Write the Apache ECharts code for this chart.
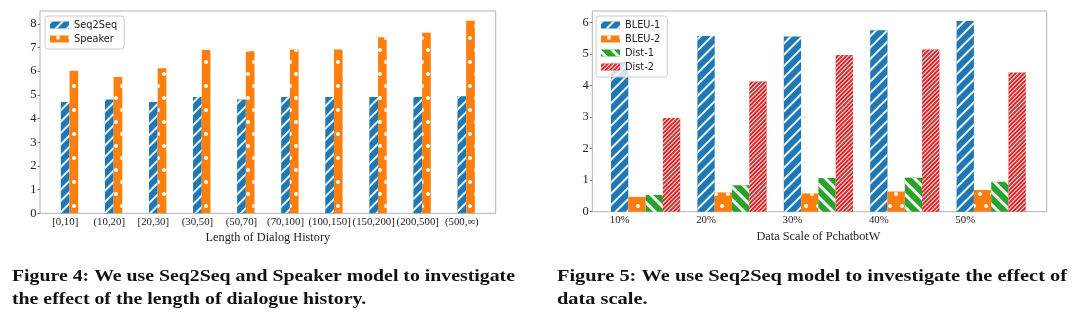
<!DOCTYPE html>
<html>
<head>
<meta charset="utf-8">
<script src="https://cdn.jsdelivr.net/npm/echarts@6/dist/echarts.min.js"></script>
<style>
html,body{margin:0;padding:0;background:#fff;}
#c{width:1080px;height:322px;}
</style>
</head>
<body>
<div id="c"></div>
<script>
// ---- data ----
const histCats = ['[0,10]','(10,20]','[20,30]','(30,50]','(50,70]','(70,100]','(100,150]','(150,200]','(200,500]','(500,\u221e)'];
const seq2seq = [4.70,4.80,4.70,4.91,4.80,4.91,4.91,4.91,4.91,4.94];
const speaker = [6.02,5.75,6.12,6.89,6.84,6.92,6.92,7.43,7.62,8.13];
const histTicks = [0,1,2,3,4,5,6,7,8];

const scaleCats = ['10%','20%','30%','40%','50%'];
const bleu1 = [4.75,5.58,5.56,5.76,6.05];
const bleu2 = [0.47,0.61,0.58,0.64,0.69];
const dist1 = [0.53,0.84,1.07,1.08,0.95];
const dist2 = [2.97,4.13,4.97,5.15,4.42];
const scaleTicks = [0,1,2,3,4,5,6];

const caption4 = ['Figure 4: We use Seq2Seq and Speaker model to investigate','the effect of the length of dialogue history.'];
const caption5 = ['Figure 5: We use Seq2Seq model to investigate the effect of','data scale.'];

// ---- styles ----
const BLUE='#1f77b4', ORANGE='#ff7f0e', GREEN='#2ca02c', RED='#d62728';
const SERIF='"Liberation Serif", "Times New Roman", serif';
const SANS='"DejaVu Sans", sans-serif';
const W='rgba(255,255,255,0.92)';
const decFwd = {symbol:'rect', symbolSize:1, color:W, dashArrayX:[1,0], dashArrayY:[2,6], rotation:-Math.PI/4};
const decBack = {symbol:'rect', symbolSize:1, color:W, dashArrayX:[1,0], dashArrayY:[3,6], rotation:Math.PI/4};
const decDense = {symbol:'rect', symbolSize:1, color:W, dashArrayX:[1,0], dashArrayY:[1,2], rotation:-Math.PI/4};
const decDots = {symbol:'circle', symbolSize:1, color:'#ffffff', dashArrayX:[[4,8],[0,6,4,2]], dashArrayY:[4,8], rotation:0};

const chart = echarts.init(document.getElementById('c'), null, {renderer:'canvas'});

function yAx(grid, max, ticks, visible){
  if(!visible) return {gridIndex:grid, type:'value', min:0, max:max, show:false};
  return {gridIndex:grid, type:'value', min:0, max:max, interval:1,
    axisLine:{show:false}, splitLine:{show:false},
    axisTick:{show:true, length:2.5, customValues:ticks, lineStyle:{color:'#777', width:1}},
    axisLabel:{customValues:ticks, fontFamily:SERIF, fontSize:12.5, color:'#222', margin:3.5}};
}
function catAx(grid, cats, name, shift){
  return {gridIndex:grid, type:'category', data:cats, boundaryGap:true,
    axisLine:{show:false}, axisTick:{show:false},
    axisLabel:{fontFamily:SERIF, fontSize:10.8, color:'#222', margin:3, padding:[0,shift,0,0], interval:0},
    name:name, nameLocation:'middle', nameGap:11,
    nameTextStyle:{fontFamily:SERIF, fontSize:12.3, color:'#222'}};
}

// caption scaling to match the condensed serif of the original
const mc = document.createElement('canvas').getContext('2d');
const capFont = 'bold 16px "Liberation Serif"';
mc.font = capFont;
const s4 = 503/mc.measureText(caption4[0]).width;
const s5 = 510/mc.measureText(caption5[0]).width;

const legendBase = {orient:'vertical', icon:'rect', itemWidth:19, itemHeight:7, itemGap:4,
  padding:[4,7,5,5], backgroundColor:'rgba(255,255,255,0.8)', borderColor:'#cccccc', borderWidth:1, borderRadius:3,
  textStyle:{fontFamily:SANS, fontSize:9.8, color:'#222'}};

const option = {
  animation:false,
  grid:[
    {left:40, top:11, width:455.7, height:202.3, show:true, borderColor:'#b3b3b3', borderWidth:1, backgroundColor:'rgba(0,0,0,0)'},
    {left:47.5, top:11, width:440.7, height:202.3},
    {left:592.3, top:11, width:454.4, height:200.7, show:true, borderColor:'#b3b3b3', borderWidth:1, backgroundColor:'rgba(0,0,0,0)'},
    {left:602.4, top:11, width:432, height:200.7}
  ],
  xAxis:[
    {gridIndex:0, type:'value', show:false},
    catAx(1, histCats, 'Length of Dialog History', 8.7),
    {gridIndex:2, type:'value', show:false},
    catAx(3, scaleCats, 'Data Scale of PchatbotW', 51.9)
  ],
  yAxis:[
    yAx(0, 8.54, histTicks, true),
    yAx(1, 8.54, histTicks, false),
    yAx(2, 6.37, scaleTicks, true),
    yAx(3, 6.37, scaleTicks, false)
  ],
  legend:[
    Object.assign({}, legendBase, {data:['Seq2Seq','Speaker'], left:45, top:16}),
    Object.assign({}, legendBase, {data:['BLEU-1','BLEU-2','Dist-1','Dist-2'], left:596, top:16})
  ],
  series:[
    {type:'bar', name:'Seq2Seq', xAxisIndex:1, yAxisIndex:1, data:seq2seq, barWidth:8.7, barGap:'0%', itemStyle:{color:BLUE, decal:decFwd}},
    {type:'bar', name:'Speaker', xAxisIndex:1, yAxisIndex:1, data:speaker, barWidth:8.7, barGap:'0%', itemStyle:{color:ORANGE, decal:decDots}},
    {type:'bar', name:'BLEU-1', xAxisIndex:3, yAxisIndex:3, data:bleu1, barWidth:17.3, barGap:'0%', itemStyle:{color:BLUE, decal:decFwd}},
    {type:'bar', name:'BLEU-2', xAxisIndex:3, yAxisIndex:3, data:bleu2, barWidth:17.3, barGap:'0%', itemStyle:{color:ORANGE, decal:decDots}},
    {type:'bar', name:'Dist-1', xAxisIndex:3, yAxisIndex:3, data:dist1, barWidth:17.3, barGap:'0%', itemStyle:{color:GREEN, decal:decBack}},
    {type:'bar', name:'Dist-2', xAxisIndex:3, yAxisIndex:3, data:dist2, barWidth:17.3, barGap:'0%', itemStyle:{color:RED, decal:decDense}}
  ],
  graphic:[
    {type:'text', x:12, y:277, scaleX:s4, style:{text:caption4[0], font:capFont, fill:'#111', verticalAlign:'middle', align:'left'}},
    {type:'text', x:12, y:300, scaleX:s4, style:{text:caption4[1], font:capFont, fill:'#111', verticalAlign:'middle', align:'left'}},
    {type:'text', x:557, y:277, scaleX:s5, style:{text:caption5[0], font:capFont, fill:'#111', verticalAlign:'middle', align:'left'}},
    {type:'text', x:557, y:300, scaleX:s5, style:{text:caption5[1], font:capFont, fill:'#111', verticalAlign:'middle', align:'left'}}
  ]
};
chart.setOption(option);
</script>
</body>
</html>
